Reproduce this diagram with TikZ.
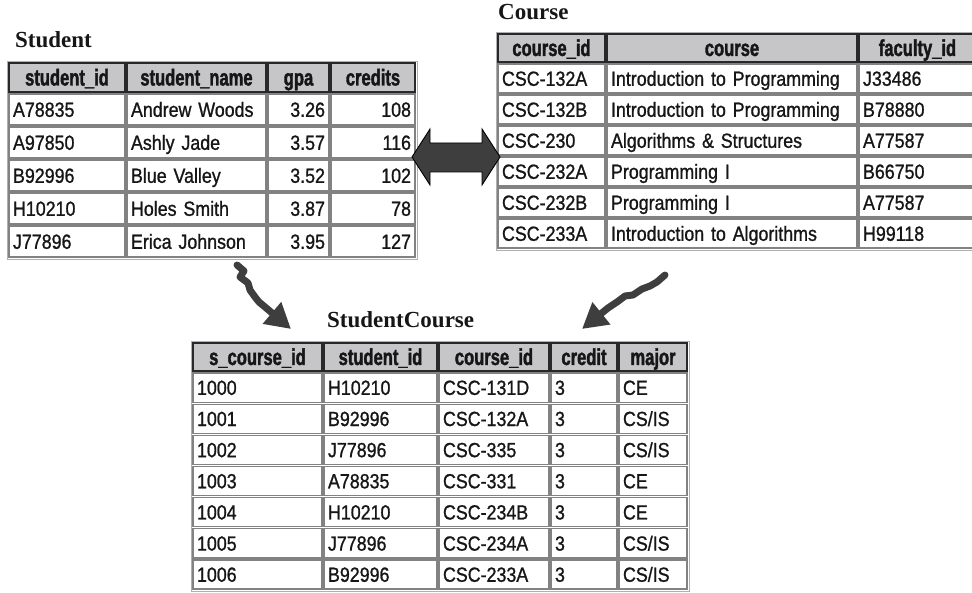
\documentclass[tikz,border=0pt]{standalone}
\usepackage{fontspec}
\setmainfont{Liberation Sans}[FakeStretch=0.87,FakeBold=1.0]
\newfontfamily\hdfont{Liberation Sans}[FakeStretch=0.72,FakeBold=1.6]
\newfontfamily\ttlfont{Liberation Serif}
\usetikzlibrary{arrows.meta}

\definecolor{hdfill}{RGB}{198,198,201}
\definecolor{hdline}{RGB}{40,40,40}
\definecolor{cellline}{RGB}{130,130,130}
\definecolor{ink}{RGB}{22,22,22}
\definecolor{arrowgray}{RGB}{62,62,62}
\definecolor{framegray}{RGB}{175,175,175}

% one table cell: name, style, x0, y0, x1, y1, text
\newcommand\dbcell[7]{%
  \pgfmathsetmacro\dbw{#5-(#3)-10}%
  \pgfmathsetmacro\dbh{#6-(#4)-2}%
  \node[#2, text width=\dbw pt, minimum height=\dbh pt] (#1) at ({#3+1},{#4+1}) {#7};%
}

\tikzset{
  cellbase/.style={rectangle, anchor=north west, inner xsep=4pt, inner ysep=0pt,
    outer sep=0pt, line width=1.2pt, text=ink},
  bodycell/.style={cellbase, draw=cellline, fill=white,
    font=\fontsize{20.5}{22}\selectfont, text height=14.6pt, text depth=0pt, align=left},
  numcell/.style={bodycell, align=right},
  headcell/.style={cellbase, draw=hdline, fill=hdfill,
    font=\hdfont\bfseries\fontsize{23}{24}\selectfont, text height=16pt, text depth=0pt,
    align=center},
  tabletitle/.style={anchor=base west, inner sep=0pt,
    font=\ttlfont\bfseries\fontsize{23}{25}\selectfont, text=ink},
  tableframe/.style={draw=framegray, line width=0.8pt},
  wavy/.style={draw=arrowgray, line width=7pt, line join=round, line cap=round,
    -{Triangle[length=25pt,width=27pt]}},
  bigarrow/.style={draw=black, line width=0.9pt, fill=arrowgray, line join=miter}
}

\begin{document}
\begin{tikzpicture}[x=1pt,y=-1pt]
\useasboundingbox (0,0) rectangle (972,593);

% ---------- Student ----------
\node[tabletitle] (st-title) at (15,48) {Student};
\draw[tableframe] (7,61) rectangle (417,259);
\dbcell{st-h-1}{headcell}{8}{62}{126}{93}{student\_id}
\dbcell{st-h-2}{headcell}{126}{62}{267}{93}{student\_name}
\dbcell{st-h-3}{headcell}{267}{62}{330}{93}{gpa}
\dbcell{st-h-4}{headcell}{330}{62}{416}{93}{credits}
\foreach \a/\b/\c/\d [count=\i] in {
  A78835/Andrew Woods/3.26/108,
  A97850/Ashly Jade/3.57/116,
  B92996/Blue Valley/3.52/102,
  H10210/Holes Smith/3.87/78,
  J77896/Erica Johnson/3.95/127}{
  \pgfmathsetmacro\yt{93+33*(\i-1)}
  \pgfmathsetmacro\yb{\yt+33}
  \dbcell{st-\i-1}{bodycell}{8}{\yt}{126}{\yb}{\a}
  \dbcell{st-\i-2}{bodycell}{126}{\yt}{267}{\yb}{\b}
  \dbcell{st-\i-3}{numcell}{267}{\yt}{330}{\yb}{\c}
  \dbcell{st-\i-4}{numcell}{330}{\yt}{416}{\yb}{\d}
}

% ---------- Course ----------
\node[tabletitle] (co-title) at (498,20) {Course};
\draw[tableframe] (496,32) rectangle (978,250);
\dbcell{co-h-1}{headcell}{497}{33}{606}{63}{course\_id}
\dbcell{co-h-2}{headcell}{606}{33}{858}{63}{course}
\dbcell{co-h-3}{headcell}{858}{33}{977}{63}{faculty\_id}
\foreach \a/\b/\c [count=\i] in {
  CSC-132A/Introduction to Programming/J33486,
  CSC-132B/Introduction to Programming/B78880,
  CSC-230/Algorithms \& Structures/A77587,
  CSC-232A/Programming I/B66750,
  CSC-232B/Programming I/A77587,
  CSC-233A/Introduction to Algorithms/H99118}{
  \pgfmathsetmacro\yt{63+31*(\i-1)}
  \pgfmathsetmacro\yb{\yt+31}
  \dbcell{co-\i-1}{bodycell}{497}{\yt}{606}{\yb}{\a}
  \dbcell{co-\i-2}{bodycell}{606}{\yt}{858}{\yb}{\b}
  \dbcell{co-\i-3}{bodycell}{858}{\yt}{977}{\yb}{\c}
}

% ---------- StudentCourse ----------
\node[tabletitle] (sc-title) at (327,328) {StudentCourse};
\draw[tableframe] (191,341) rectangle (689,591);
\dbcell{sc-h-1}{headcell}{192}{342}{323}{372}{s\_course\_id}
\dbcell{sc-h-2}{headcell}{323}{342}{438}{372}{student\_id}
\dbcell{sc-h-3}{headcell}{438}{342}{550}{372}{course\_id}
\dbcell{sc-h-4}{headcell}{550}{342}{618}{372}{credit}
\dbcell{sc-h-5}{headcell}{618}{342}{688}{372}{major}
\foreach \a/\b/\c/\d/\e [count=\i] in {
  1000/H10210/CSC-131D/3/CE,
  1001/B92996/CSC-132A/3/{CS/IS},
  1002/J77896/CSC-335/3/{CS/IS},
  1003/A78835/CSC-331/3/CE,
  1004/H10210/CSC-234B/3/CE,
  1005/J77896/CSC-234A/3/{CS/IS},
  1006/B92996/CSC-233A/3/{CS/IS}}{
  \pgfmathsetmacro\yt{372+31.15*(\i-1)}
  \pgfmathsetmacro\yb{\yt+31.15}
  \dbcell{sc-\i-1}{bodycell}{192}{\yt}{323}{\yb}{\a}
  \dbcell{sc-\i-2}{bodycell}{323}{\yt}{438}{\yb}{\b}
  \dbcell{sc-\i-3}{bodycell}{438}{\yt}{550}{\yb}{\c}
  \dbcell{sc-\i-4}{bodycell}{550}{\yt}{618}{\yb}{\d}
  \dbcell{sc-\i-5}{bodycell}{618}{\yt}{688}{\yb}{\e}
}

% ---------- double arrow between Student and Course ----------
\coordinate (dl) at (412,157);
\coordinate (dr) at (500,157);
\draw[bigarrow] (dl) -- (430,129) -- (430,143) -- (482,143) -- (482,129)
  -- (dr) -- (482,185) -- (482,172) -- (430,172) -- (430,185) -- cycle;

% ---------- wavy arrows into StudentCourse ----------
\coordinate (ws) at (237,265);
\coordinate (wt) at (291,329);
\draw[wavy] (ws) -- (244,271) -- (240,277) -- (248,283) -- (250,290) -- (255,297)
  -- (259,302) -- (265,307) -- (wt);

\coordinate (es) at (665,275);
\coordinate (et) at (582,329);
\draw[wavy] (es) -- (657,282) -- (650,286) -- (642,289) -- (633,295) -- (625,296)
  -- (617,302) -- (608,308) -- (et);

\end{tikzpicture}
\end{document}
